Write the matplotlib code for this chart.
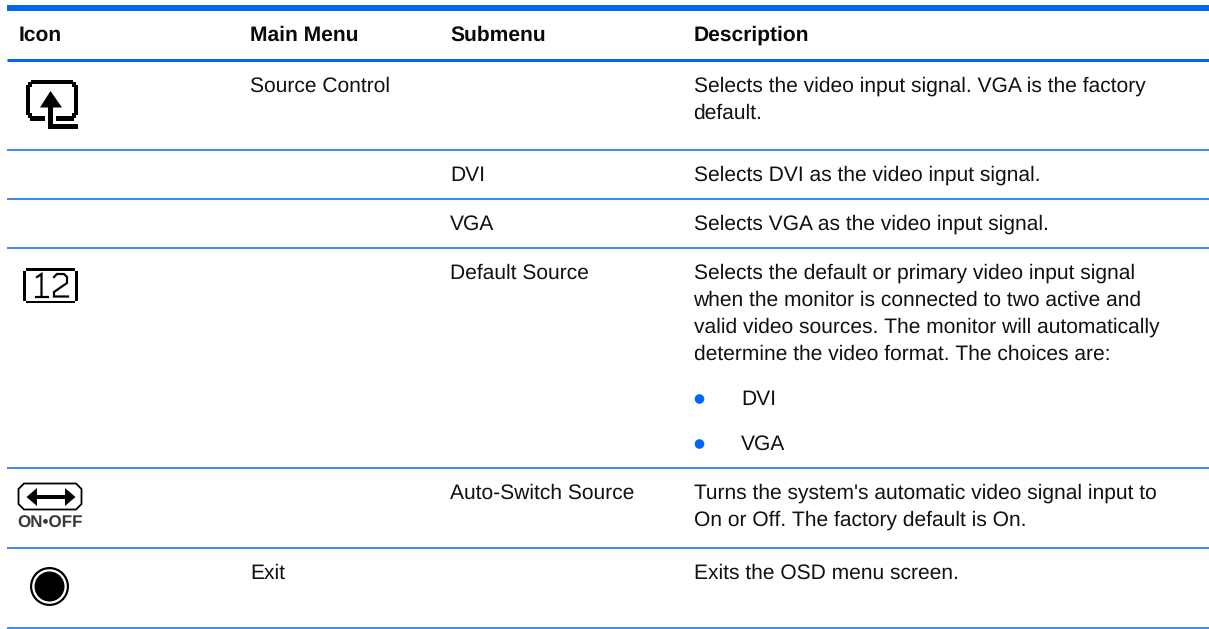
import matplotlib
matplotlib.use("Agg")
import matplotlib.pyplot as plt
from matplotlib.patches import Polygon, Rectangle, Circle

plt.rcParams['font.family'] = ['Liberation Sans', 'DejaVu Sans']
plt.rcParams['text.hinting'] = 'no_hinting'
plt.rcParams['text.hinting_factor'] = 1

BLUE = '#0066f5'
TXT = '#111111'
FS = 15.15
headers = ['Icon', 'Main Menu', 'Submenu', 'Description']
header_x = [19, 250.5, 450, 694]
rules = [(7.5, 6), (60, 3), (150, 1.5), (199, 1.5), (248, 1.5), (468, 1.5), (548, 1.5), (628, 1.5)]
cells = [
    (250.5, 92, 'Source Control'),
    (693.5, 92, 'Selects the video input signal. VGA is the factory'),
    (693.5, 119, 'default.'),
    (450, 181, 'DVI'),
    (693.5, 181, 'Selects DVI as the video input signal.'),
    (450, 230, 'VGA'),
    (693.5, 230, 'Selects VGA as the video input signal.'),
    (450, 279, 'Default Source'),
    (693.5, 279, 'Selects the default or primary video input signal'),
    (693.5, 306, 'when the monitor is connected to two active and'),
    (693.5, 333, 'valid video sources. The monitor will automatically'),
    (693.5, 359.5, 'determine the video format. The choices are:'),
    (741, 405, 'DVI'),
    (741, 450, 'VGA'),
    (450, 499, 'Auto-Switch Source'),
    (693.5, 499, "Turns the system's automatic video signal input to"),
    (693.5, 526, 'On or Off. The factory default is On.'),
    (250.5, 579, 'Exit'),
    (693.5, 579, 'Exits the OSD menu screen.'),
]
bullets_y = [399, 444]

fig = plt.figure(figsize=(12.09, 6.29), dpi=100)
ax = fig.add_axes([0, 0, 1, 1])
ax.set_xlim(0, 1209)
ax.set_ylim(629, 0)
ax.axis('off')

px = 0.72  # points per pixel at dpi 100

for y, lw in rules:
    ax.plot([7, 1209], [y, y], color=BLUE, lw=lw * px, solid_capstyle='butt')
for x, label in zip(header_x, headers):
    ax.text(x, 41, label, fontsize=FS, fontweight='bold', va='baseline', color='#0a0a0a')
for x, y, s in cells:
    ax.text(x, y, s, fontsize=FS, va='baseline', color=TXT)
for y in bullets_y:
    ax.add_patch(Circle((699.5, y), 4.8, color=BLUE, lw=0))

def bar(x0, y0, x1, y1, color='black'):
    ax.add_patch(Rectangle((x0, y0), x1 - x0, y1 - y0, fc=color, ec='none'))

# icon: source control
for b in [(31, 80, 73, 84), (26, 85, 30, 115), (74, 85, 78, 115),
          (28, 82, 32, 87), (72, 82, 76, 87), (28, 113, 32, 118), (72, 113, 76, 118),
          (30, 116, 45, 120.5), (56, 116, 74, 120.5),
          (48, 100, 53, 128.5), (48, 124, 78, 128.5)]:
    bar(*b)
ax.add_patch(Polygon([[50.5, 91], [62, 107.5], [40, 107.5]], fc='black', ec='none'))

# icon: 12
for b in [(26, 268, 75, 270.5), (26, 300.5, 75, 303), (23, 270.5, 26, 300.5), (75, 270.5, 78, 300.5)]:
    bar(*b)
ax.plot([37, 41.5, 41.5], [277, 274, 296.5], color='black', lw=2.2 * px, solid_joinstyle='miter')
ax.plot([36, 48], [296.5, 296.5], color='black', lw=2.2 * px)
ax.plot([54, 57, 64, 67, 67, 54, 54, 68], [277, 274, 274, 277, 283, 292, 296.5, 296.5], color='black', lw=2.2 * px, solid_joinstyle='miter')

# icon: on-off
ax.add_patch(Polygon([[24, 483.5], [76, 483.5], [81.5, 489], [81.5, 504], [76, 509.5], [24, 509.5], [18.5, 504], [18.5, 489]],
                     fill=False, ec='black', lw=1.8 * px))
bar(36, 495.3, 66, 498.7)
ax.add_patch(Polygon([[26.5, 497], [37, 488], [37, 506]], fc='black', ec='none'))
ax.add_patch(Polygon([[75.5, 497], [65, 488], [65, 506]], fc='black', ec='none'))
ax.text(50, 528, 'ON•OFF', fontsize=12.3, fontweight='bold', ha='center', va='baseline', color='#3a3a3a')

# icon: exit
ax.add_patch(Circle((49.5, 586.5), 19.5, fc='black', ec='none'))
ax.add_patch(Circle((49.5, 586.5), 17.3, fc='white', ec='none'))
ax.add_patch(Circle((49.5, 586.5), 15, fc='black', ec='none'))

fig.savefig('out.png', dpi=100)
